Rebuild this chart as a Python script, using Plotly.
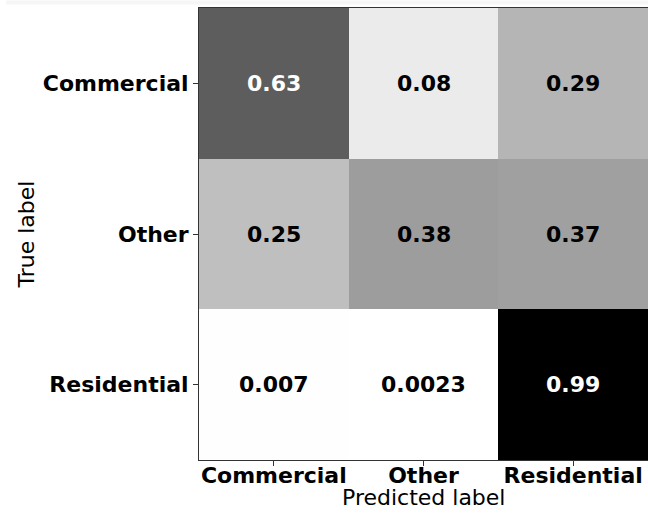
import plotly.graph_objects as go

# Normalised confusion matrix (rows: true class, columns: predicted class)
classes = ["Commercial", "Other", "Residential"]
matrix = [
    [0.63, 0.08, 0.29],
    [0.25, 0.38, 0.37],
    [0.007, 0.0023, 0.99],
]

FONT = "DejaVu Sans"
vmin = min(min(r) for r in matrix)
vmax = max(max(r) for r in matrix)
threshold = (vmin + vmax) / 2

fig = go.Figure(
    go.Heatmap(
        z=matrix,
        x=classes,
        y=classes,
        colorscale=[[0, "#ffffff"], [1, "#000000"]],
        zmin=vmin,
        zmax=vmax,
        showscale=False,
        xgap=0,
        ygap=0,
        hoverinfo="skip",
    )
)

# Cell annotations: white text on dark cells, black elsewhere
for i, row in enumerate(matrix):
    for j, v in enumerate(row):
        fig.add_annotation(
            x=classes[j],
            y=classes[i],
            text=f"{v:.2g}",
            showarrow=False,
            font=dict(family=FONT, size=22, weight="bold",
                      color="white" if v > threshold else "black"),
        )

# x-axis title placed just under the tick labels
fig.add_annotation(
    x=0.5, y=-37 / 452, xref="paper", yref="paper",
    xanchor="center", yanchor="middle", showarrow=False,
    text="Predicted label",
    font=dict(family=FONT, size=22, color="black"),
)

# faint band across the top edge of the canvas
fig.add_shape(type="rect", xref="paper", yref="paper",
              x0=-0.43, x1=1.0, y0=1 + 3.5 / 452, y1=1 + 7.5 / 452,
              line_width=0, fillcolor="#f6f6f6", layer="below")

axis_common = dict(
    showgrid=False,
    zeroline=False,
    ticks="outside",
    ticklen=5,
    tickwidth=1,
    tickcolor="#333333",
    showline=True,
    linecolor="#333333",
    linewidth=1,
    mirror=True,
    tickfont=dict(family=FONT, size=22, weight="bold", color="black"),
)

fig.update_layout(
    width=648,
    height=513,
    margin=dict(l=199, r=0, t=8, b=53),
    paper_bgcolor="white",
    plot_bgcolor="white",
    xaxis=dict(axis_common, ticklabelstandoff=-9),
    yaxis=dict(axis_common, autorange="reversed",
               title=dict(text="True label",
                          font=dict(family=FONT, size=22, color="black"),
                          standoff=2)),
)

fig.write_html("out.html")
